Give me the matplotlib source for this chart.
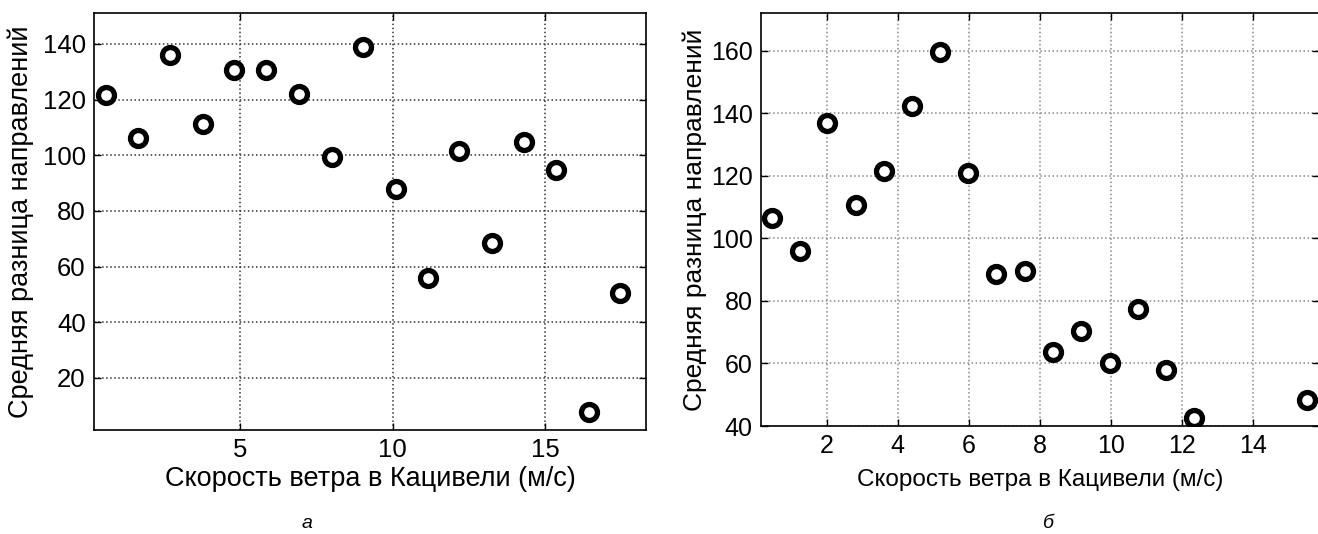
import matplotlib
matplotlib.use("Agg")
import matplotlib.pyplot as plt

plt.rcParams['font.family'] = ['Liberation Sans', 'DejaVu Sans']

# panel (a)
a_wind = [0.60, 1.66, 2.71, 3.77, 4.81, 5.86, 6.93, 8.00, 9.04, 10.10,
          11.15, 12.19, 13.27, 14.32, 15.37, 16.43, 17.47]
a_diff = [121.6, 106.3, 136.1, 111.3, 130.6, 130.6, 122.1, 99.2, 138.8, 87.9,
          55.8, 101.4, 68.3, 104.8, 94.7, 7.8, 50.4]
a_xticks = [5, 10, 15]
a_yticks = [20, 40, 60, 80, 100, 120, 140]

# panel (б)
b_wind = [0.45, 1.24, 2.02, 2.82, 3.60, 4.39, 5.20, 5.99, 6.78, 7.59,
          8.37, 9.16, 9.98, 10.76, 11.55, 12.34, 15.51]
b_diff = [106.4, 96.0, 136.8, 110.6, 121.5, 142.2, 159.5, 121.0, 88.7, 89.5,
          63.5, 70.3, 60.2, 77.3, 57.8, 42.4, 48.3]
b_xticks = [2, 4, 6, 8, 10, 12, 14]
b_yticks = [40, 60, 80, 100, 120, 140, 160]

XLABEL = "Скорость ветра в Кацивели (м/с)"
YLABEL = "Средняя разница направлений"

W, H = 1318, 534
fig = plt.figure(figsize=(W / 100, H / 100), dpi=100)

def px_axes(l, t, r, b):
    return fig.add_axes([l / W, 1 - b / H, (r - l) / W, (b - t) / H])

def style(ax, xt, yt, fs, grid_col):
    ax.set_xticks(xt)
    ax.set_yticks(yt)
    ax.tick_params(direction="in", length=5, width=1, top=True, right=True,
                   labelsize=fs, colors="black", pad=6)
    ax.grid(True, ls=":", color=grid_col, lw=1.1)
    for s in ax.spines.values():
        s.set_linewidth(1.2)
        s.set_color("black")

mk = dict(ls="none", marker="o", ms=11.5, mew=3.8, mfc="white", mec="black")

ax1 = px_axes(94, 13, 646, 430)
ax1.plot(a_wind, a_diff, **mk)
ax1.set_xlim(0.21, 18.31)
ax1.set_ylim(1.3, 151.1)
style(ax1, a_xticks, a_yticks, 18.5, "#333333")
ax1.set_xlabel(XLABEL, fontsize=19.5, labelpad=3)
ax1.set_ylabel(YLABEL, fontsize=19.5, labelpad=6)

ax2 = px_axes(761, 13, 1319, 426)
ax2.plot(b_wind, b_diff, **mk)
ax2.set_xlim(0.15, 15.86)
ax2.set_ylim(40, 172)
style(ax2, b_xticks, b_yticks, 18, "#888888")
ax2.set_xlabel(XLABEL, fontsize=17.5, labelpad=8)
ax2.set_ylabel(YLABEL, fontsize=19, labelpad=3)

fig.text(307 / W, 1 - 524 / H, "а", fontsize=14, style="italic", ha="center", va="center")
fig.text(1048 / W, 1 - 524 / H, "б", fontsize=14, style="italic", ha="center", va="center")

fig.savefig("out.png", dpi=100)
